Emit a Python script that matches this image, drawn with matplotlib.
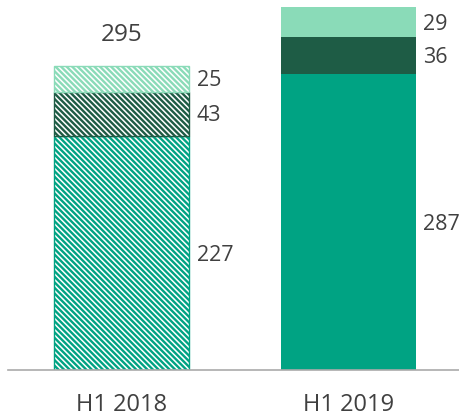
import matplotlib
matplotlib.use("Agg")
import matplotlib.pyplot as plt

plt.rcParams['font.family'] = ['Open Sans', 'DejaVu Sans']
plt.rcParams['hatch.linewidth'] = 1.7

categories = ["H1 2018", "H1 2019"]
base = [227, 287]
middle = [43, 36]
top = [25, 29]
totals = [295, None]

c_base = "#00A383"
c_mid = "#1E5C45"
c_top = "#8ADBB8"
txt = "#404040"

fig = plt.figure(figsize=(4.6, 4.16), dpi=100)
ax = fig.add_axes([8/460, 46/416, 452/460, 370/416])

px = 358.9 / 370.0  # data units per pixel (vertical)
x = [0, 1]
w = 0.596
hatched = [True, False]
lab_fs = 15.5
dig_h = lab_fs * 100 / 72 * 0.714  # digit height in px
for i in x:
    b = 0
    for vals, col in ((base, c_base), (middle, c_mid), (top, c_top)):
        v = vals[i]
        if hatched[i]:
            ax.bar(i, v, w, bottom=b, color="white", edgecolor=col,
                   hatch="\\" * 6, linewidth=1.0)
        else:
            ax.bar(i, v, w, bottom=b, color=col, edgecolor=col, linewidth=0)
        ax.text(i + w/2 + 0.033, b + v/2 - dig_h/2 * px, str(v), ha="left",
                va="baseline", fontsize=lab_fs, color=txt)
        b += v
    if totals[i] is not None:
        ax.text(i, b + 24.5, str(totals[i]), ha="center", va="baseline",
                fontsize=17.5, color=txt)

ax.set_xlim(-0.501, 1.494)
ax.set_ylim(0, 358.9)
ax.set_xticks(x)
ax.set_xticklabels(categories, fontsize=17, color=txt)
ax.tick_params(axis="x", length=0, pad=16.5)
ax.set_yticks([])
for s in ("top", "right", "left"):
    ax.spines[s].set_visible(False)
ax.spines["bottom"].set_color("#AAAAAA")
ax.spines["bottom"].set_linewidth(1.2)

fig.savefig("out.png", dpi=100)
